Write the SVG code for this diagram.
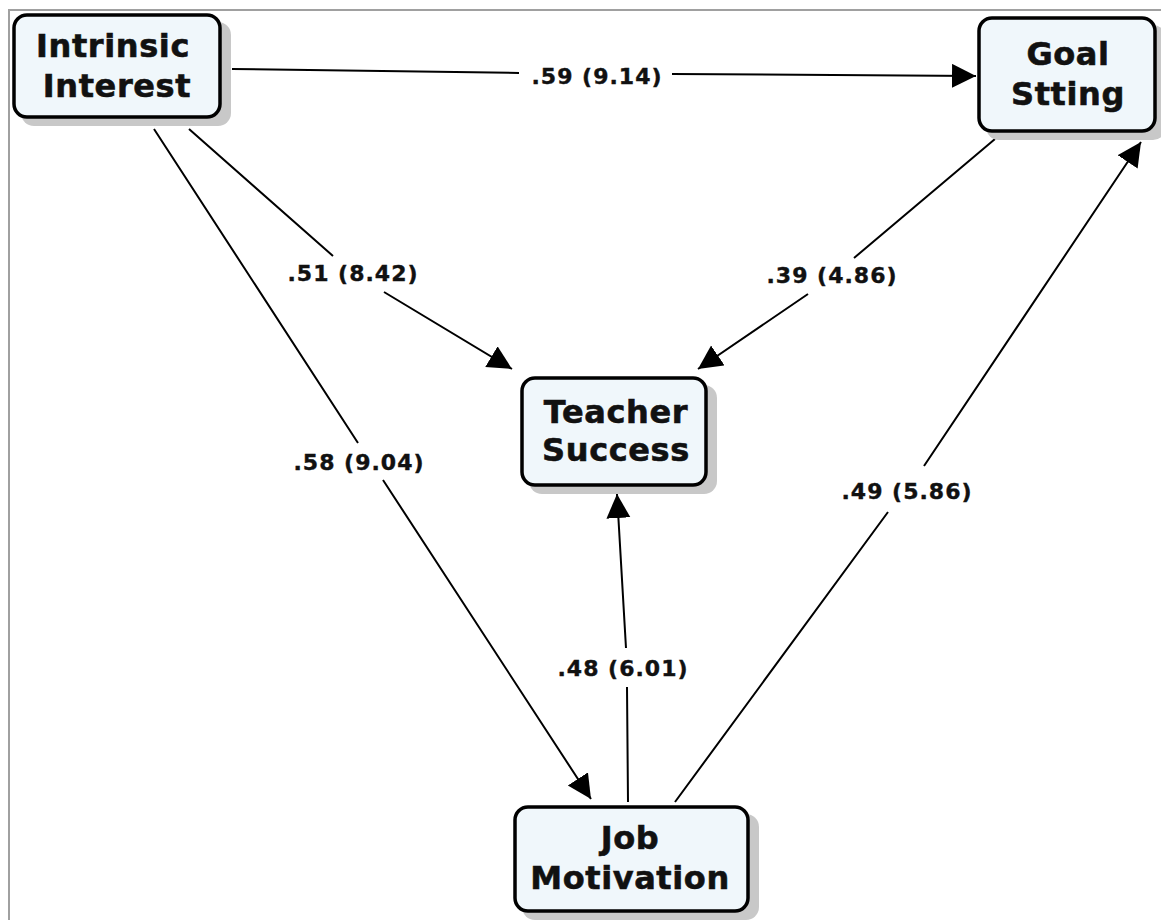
<svg xmlns="http://www.w3.org/2000/svg" width="1161" height="920" viewBox="0 0 1161 920">
<defs>
<style>
.frame{fill:none;stroke:#a0a0a0;stroke-width:2}
.shadow{fill:#c8c8c8}
.box{fill:#f0f7fb;stroke:#000;stroke-width:3.5}
.nt{font-family:"DejaVu Sans","Liberation Sans",sans-serif;font-weight:bold;font-size:32px;letter-spacing:0.6px;text-anchor:middle;fill:#111;stroke:#111;stroke-width:0.6}
.lt{font-family:"DejaVu Sans","Liberation Sans",sans-serif;font-weight:bold;font-size:22px;letter-spacing:1px;text-anchor:middle;fill:#111;stroke:#111;stroke-width:0.4}
.edge{fill:none;stroke:#000;stroke-width:2;marker-end:url(#ah)}
</style>
<marker id="ah" markerUnits="userSpaceOnUse" markerWidth="26" markerHeight="26" refX="24" refY="12" orient="auto">
<path d="M0,0 L24,12 L0,24 z" fill="#000"/>
</marker>
</defs>
<rect width="1161" height="920" fill="#fff"/>
<path class="frame" d="M9,920 L9,10 L1161,10"/>
<g id="connectors">
<path class="edge" d="M232,69 L519,73 M672,74 L976,76"/>
<path class="edge" d="M189,129 L333,256 M384,292 L512,369"/>
<path class="edge" d="M154,129 L358,443 M383,480 L591,799"/>
<path class="edge" d="M995,139 L854,258 M808,294 L698,369"/>
<path class="edge" d="M628,802 L627,687 M626,648 L617,494"/>
<path class="edge" d="M675,802 L888,512 M924,466 L1141,142"/>
<text class="lt" x="597" y="84">.59 (9.14)</text>
<text class="lt" x="353" y="281">.51 (8.42)</text>
<text class="lt" x="359" y="470">.58 (9.04)</text>
<text class="lt" x="832" y="283">.39 (4.86)</text>
<text class="lt" x="623" y="676">.48 (6.01)</text>
<text class="lt" x="907" y="499">.49 (5.86)</text>
</g>
<g id="intrinsic-interest">
<rect class="shadow" x="21" y="22" width="210" height="104" rx="13"/>
<rect class="box" x="14" y="15" width="206" height="102" rx="13"/>
<text class="nt" x="113" y="57">Intrinsic</text>
<text class="nt" x="117" y="97">Interest</text>
</g>
<g id="goal-stting">
<rect class="shadow" x="986" y="25" width="180" height="115" rx="13"/>
<rect class="box" x="979" y="18" width="176" height="113" rx="13"/>
<text class="nt" x="1068" y="65">Goal</text>
<text class="nt" x="1068" y="105">Stting</text>
</g>
<g id="teacher-success">
<rect class="shadow" x="529" y="385" width="188" height="109" rx="13"/>
<rect class="box" x="522" y="378" width="184" height="107" rx="13"/>
<text class="nt" x="616" y="423">Teacher</text>
<text class="nt" x="616" y="461">Success</text>
</g>
<g id="job-motivation">
<rect class="shadow" x="522" y="814" width="237" height="106" rx="13"/>
<rect class="box" x="515" y="807" width="233" height="104" rx="13"/>
<text class="nt" x="630" y="849">Job</text>
<text class="nt" x="630" y="889">Motivation</text>
</g>
</svg>
